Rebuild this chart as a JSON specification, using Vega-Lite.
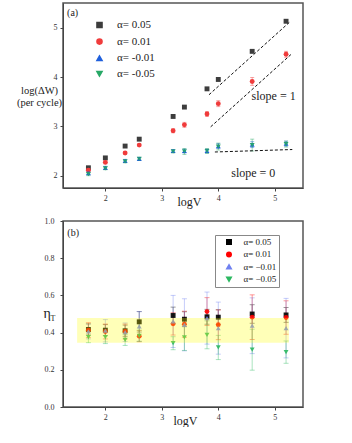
{
  "$schema": "https://vega.github.io/schema/vega-lite/v6.json",
  "background": "white",
  "padding": {"left": 15, "top": 2, "right": 0, "bottom": 0},
  "bounds": "flush",
  "spacing": 33,
  "config": {
    "font": "Liberation Serif",
    "view": {"stroke": "#555", "strokeWidth": 1.5},
    "axis": {"grid": false, "labelFontSize": 8, "tickSize": 3, "domainColor": "#444", "tickColor": "#444", "labelColor": "#333", "titleFontWeight": "normal", "titleColor": "#222", "labelFont": "Liberation Serif", "titleFont": "Liberation Serif", "labelOverlap": false, "labelFlush": false},
    "legend": {"labelFont": "Liberation Serif", "titleFontWeight": "normal", "symbolOpacity": 1}
  },
  "datasets": {
    "top": [
      {"s": "α= 0.05", "x": 1.7, "y": 2.16},
      {"s": "α= 0.05", "x": 2.0, "y": 2.36},
      {"s": "α= 0.05", "x": 2.35, "y": 2.60},
      {"s": "α= 0.05", "x": 2.6, "y": 2.74},
      {"s": "α= 0.05", "x": 3.2, "y": 3.20},
      {"s": "α= 0.05", "x": 3.4, "y": 3.39},
      {"s": "α= 0.05", "x": 3.8, "y": 3.76},
      {"s": "α= 0.05", "x": 4.0, "y": 3.95},
      {"s": "α= 0.05", "x": 4.6, "y": 4.52},
      {"s": "α= 0.05", "x": 5.2, "y": 5.13},
      {"s": "α= 0.01", "x": 1.7, "y": 2.11, "lo": 2.08, "hi": 2.14},
      {"s": "α= 0.01", "x": 2.0, "y": 2.27, "lo": 2.24, "hi": 2.30},
      {"s": "α= 0.01", "x": 2.35, "y": 2.46, "lo": 2.44, "hi": 2.48},
      {"s": "α= 0.01", "x": 2.6, "y": 2.62, "lo": 2.60, "hi": 2.64},
      {"s": "α= 0.01", "x": 3.2, "y": 2.91, "lo": 2.87, "hi": 2.95},
      {"s": "α= 0.01", "x": 3.4, "y": 3.03, "lo": 2.98, "hi": 3.08},
      {"s": "α= 0.01", "x": 3.8, "y": 3.25, "lo": 3.20, "hi": 3.30},
      {"s": "α= 0.01", "x": 4.0, "y": 3.46, "lo": 3.40, "hi": 3.52},
      {"s": "α= 0.01", "x": 4.6, "y": 3.91, "lo": 3.83, "hi": 3.99},
      {"s": "α= 0.01", "x": 5.2, "y": 4.46, "lo": 4.40, "hi": 4.52},
      {"s": "α= -0.01", "x": 1.7, "y": 2.05, "lo": 2.02, "hi": 2.08},
      {"s": "α= -0.01", "x": 2.0, "y": 2.16, "lo": 2.13, "hi": 2.19},
      {"s": "α= -0.01", "x": 2.35, "y": 2.30, "lo": 2.27, "hi": 2.33},
      {"s": "α= -0.01", "x": 2.6, "y": 2.34, "lo": 2.31, "hi": 2.37},
      {"s": "α= -0.01", "x": 3.2, "y": 2.50, "lo": 2.47, "hi": 2.53},
      {"s": "α= -0.01", "x": 3.4, "y": 2.50, "lo": 2.46, "hi": 2.54},
      {"s": "α= -0.01", "x": 3.8, "y": 2.50, "lo": 2.46, "hi": 2.54},
      {"s": "α= -0.01", "x": 4.0, "y": 2.60, "lo": 2.55, "hi": 2.65},
      {"s": "α= -0.01", "x": 4.6, "y": 2.63, "lo": 2.57, "hi": 2.69},
      {"s": "α= -0.01", "x": 5.2, "y": 2.65, "lo": 2.60, "hi": 2.70},
      {"s": "α= -0.05", "x": 1.7, "y": 2.03, "lo": 2.00, "hi": 2.06},
      {"s": "α= -0.05", "x": 2.0, "y": 2.15, "lo": 2.12, "hi": 2.18},
      {"s": "α= -0.05", "x": 2.35, "y": 2.29, "lo": 2.26, "hi": 2.32},
      {"s": "α= -0.05", "x": 2.6, "y": 2.34, "lo": 2.32, "hi": 2.36},
      {"s": "α= -0.05", "x": 3.2, "y": 2.49, "lo": 2.46, "hi": 2.52},
      {"s": "α= -0.05", "x": 3.4, "y": 2.49, "lo": 2.43, "hi": 2.55},
      {"s": "α= -0.05", "x": 3.8, "y": 2.50, "lo": 2.45, "hi": 2.55},
      {"s": "α= -0.05", "x": 4.0, "y": 2.59, "lo": 2.52, "hi": 2.66},
      {"s": "α= -0.05", "x": 4.6, "y": 2.62, "lo": 2.50, "hi": 2.74},
      {"s": "α= -0.05", "x": 5.2, "y": 2.64, "lo": 2.58, "hi": 2.70}
    ],
    "lines": [
      {"line": "A", "x": 3.835, "y": 3.64},
      {"line": "A", "x": 5.28, "y": 5.13},
      {"line": "B", "x": 3.865, "y": 2.99},
      {"line": "B", "x": 5.31, "y": 4.48},
      {"line": "C", "x": 3.94, "y": 2.48},
      {"line": "C", "x": 5.31, "y": 2.53}
    ],
    "topText": [
      {"t": "(a)", "x": 1.42, "y": 5.29, "fs": 10},
      {"t": "slope = 1", "x": 4.98, "y": 3.61, "fs": 12},
      {"t": "slope = 0", "x": 4.62, "y": 2.05, "fs": 12}
    ],
    "bottom": [
      {"a": "α= 0.05", "x": 1.7, "y": 0.417, "lo": 0.387, "hi": 0.447},
      {"a": "α= 0.05", "x": 2.0, "y": 0.413, "lo": 0.383, "hi": 0.443},
      {"a": "α= 0.05", "x": 2.35, "y": 0.41, "lo": 0.38, "hi": 0.44},
      {"a": "α= 0.05", "x": 2.6, "y": 0.458, "lo": 0.403, "hi": 0.513},
      {"a": "α= 0.05", "x": 3.2, "y": 0.492, "lo": 0.447, "hi": 0.537},
      {"a": "α= 0.05", "x": 3.4, "y": 0.472, "lo": 0.432, "hi": 0.512},
      {"a": "α= 0.05", "x": 3.8, "y": 0.485, "lo": 0.445, "hi": 0.525},
      {"a": "α= 0.05", "x": 4.0, "y": 0.483, "lo": 0.443, "hi": 0.523},
      {"a": "α= 0.05", "x": 4.6, "y": 0.50, "lo": 0.45, "hi": 0.55},
      {"a": "α= 0.05", "x": 5.2, "y": 0.495, "lo": 0.455, "hi": 0.535},
      {"a": "α= 0.01", "x": 1.7, "y": 0.413, "lo": 0.373, "hi": 0.453},
      {"a": "α= 0.01", "x": 2.0, "y": 0.406, "lo": 0.366, "hi": 0.446},
      {"a": "α= 0.01", "x": 2.35, "y": 0.406, "lo": 0.366, "hi": 0.446},
      {"a": "α= 0.01", "x": 2.6, "y": 0.381, "lo": 0.351, "hi": 0.411},
      {"a": "α= 0.01", "x": 3.2, "y": 0.447, "lo": 0.387, "hi": 0.507},
      {"a": "α= 0.01", "x": 3.4, "y": 0.445, "lo": 0.375, "hi": 0.515},
      {"a": "α= 0.01", "x": 3.8, "y": 0.513, "lo": 0.438, "hi": 0.588},
      {"a": "α= 0.01", "x": 4.0, "y": 0.442, "lo": 0.362, "hi": 0.522},
      {"a": "α= 0.01", "x": 4.6, "y": 0.483, "lo": 0.363, "hi": 0.603},
      {"a": "α= 0.01", "x": 5.2, "y": 0.481, "lo": 0.391, "hi": 0.571},
      {"a": "α= −0.01", "x": 1.7, "y": 0.406, "lo": 0.366, "hi": 0.446},
      {"a": "α= −0.01", "x": 2.0, "y": 0.41, "lo": 0.35, "hi": 0.47},
      {"a": "α= −0.01", "x": 2.35, "y": 0.402, "lo": 0.352, "hi": 0.452},
      {"a": "α= −0.01", "x": 2.6, "y": 0.433, "lo": 0.353, "hi": 0.513},
      {"a": "α= −0.01", "x": 3.2, "y": 0.46, "lo": 0.32, "hi": 0.60},
      {"a": "α= −0.01", "x": 3.4, "y": 0.442, "lo": 0.302, "hi": 0.582},
      {"a": "α= −0.01", "x": 3.8, "y": 0.478, "lo": 0.338, "hi": 0.618},
      {"a": "α= −0.01", "x": 4.0, "y": 0.424, "lo": 0.284, "hi": 0.564},
      {"a": "α= −0.01", "x": 4.6, "y": 0.437, "lo": 0.287, "hi": 0.587},
      {"a": "α= −0.01", "x": 5.2, "y": 0.424, "lo": 0.264, "hi": 0.584},
      {"a": "α= −0.05", "x": 1.7, "y": 0.376, "lo": 0.346, "hi": 0.406},
      {"a": "α= −0.05", "x": 2.0, "y": 0.376, "lo": 0.341, "hi": 0.411},
      {"a": "α= −0.05", "x": 2.35, "y": 0.361, "lo": 0.331, "hi": 0.391},
      {"a": "α= −0.05", "x": 2.6, "y": 0.383, "lo": 0.353, "hi": 0.413},
      {"a": "α= −0.05", "x": 3.2, "y": 0.343, "lo": 0.308, "hi": 0.378},
      {"a": "α= −0.05", "x": 3.4, "y": 0.374, "lo": 0.304, "hi": 0.444},
      {"a": "α= −0.05", "x": 3.8, "y": 0.388, "lo": 0.313, "hi": 0.463},
      {"a": "α= −0.05", "x": 4.0, "y": 0.32, "lo": 0.255, "hi": 0.385},
      {"a": "α= −0.05", "x": 4.6, "y": 0.308, "lo": 0.198, "hi": 0.418},
      {"a": "α= −0.05", "x": 5.2, "y": 0.295, "lo": 0.235, "hi": 0.355}
    ],
    "band": [{"x1": 1.5, "x2": 5.25, "y1": 0.345, "y2": 0.478}],
    "bottomText": [
      {"t": "(b)", "x": 1.43, "y": 0.937, "fs": 10},
      {"t": "η", "x": 0.97, "y": 0.50, "fs": 14},
      {"t": "T", "x": 1.07, "y": 0.475, "fs": 8}
    ]
  },
  "vconcat": [
    {
      "width": 240,
      "height": 185,
      "layer": [
        {
          "data": {"name": "top"},
          "mark": {"type": "point", "filled": true, "opacity": 1, "size": 24},
          "encoding": {
            "x": {"field": "x", "type": "quantitative", "title": "logV", "scale": {"domain": [1.25, 5.5], "nice": false, "zero": false}, "axis": {"values": [2, 3, 4, 5], "titleFontSize": 12, "titleX": 126, "titleY": 13, "titleBaseline": "middle", "labelPadding": 3}},
            "y": {"field": "y", "type": "quantitative", "title": ["log(ΔW)", "(per cycle)"], "scale": {"domain": [1.75, 5.5], "nice": false, "zero": false}, "axis": {"values": [2, 3, 4, 5], "titleAngle": 0, "titleFontSize": 10.5, "titleAlign": "center", "titleBaseline": "middle", "titleX": -24, "titleY": 87, "titleLineHeight": 12, "labelPadding": 3}},
            "color": {"field": "s", "type": "nominal", "title": null, "scale": {"domain": ["α= 0.05", "α= 0.01", "α= -0.01", "α= -0.05"], "range": ["#3d3d3d", "#f03c3c", "#1f5fdc", "#27a866"]},
              "legend": {"orient": "none", "legendX": 31, "legendY": 16.5, "labelFont": "Liberation Serif", "labelFontSize": 11, "symbolSize": 26, "rowPadding": 3.6, "labelOffset": 12, "padding": 0, "labelColor": "#222"}},
            "shape": {"field": "s", "type": "nominal", "title": null, "scale": {"domain": ["α= 0.05", "α= 0.01", "α= -0.01", "α= -0.05"], "range": ["square", "circle", "triangle-up", "triangle-down"]},
              "legend": {"orient": "none", "legendX": 31, "legendY": 16.5, "labelFont": "Liberation Serif", "labelFontSize": 11, "symbolSize": 26, "rowPadding": 3.6, "labelOffset": 12, "padding": 0, "labelColor": "#222"}}
          }
        },
        {
          "data": {"name": "top"},
          "transform": [{"filter": "isValid(datum.lo)"}],
          "mark": {"type": "errorbar", "ticks": {"size": 4}, "opacity": 0.45},
          "encoding": {
            "x": {"field": "x", "type": "quantitative", "title": "logV"},
            "y": {"field": "lo", "type": "quantitative", "title": ["log(ΔW)", "(per cycle)"]},
            "y2": {"field": "hi"},
            "color": {"field": "s", "type": "nominal", "title": null}
          }
        },
        {
          "data": {"name": "lines"},
          "mark": {"type": "line", "color": "#111", "strokeDash": [3, 2], "strokeWidth": 1},
          "encoding": {
            "x": {"field": "x", "type": "quantitative", "title": "logV"},
            "y": {"field": "y", "type": "quantitative", "title": ["log(ΔW)", "(per cycle)"]},
            "detail": {"field": "line"}
          }
        },
        {
          "data": {"name": "topText"},
          "mark": {"type": "text", "color": "#222", "align": "center", "baseline": "middle"},
          "encoding": {
            "x": {"field": "x", "type": "quantitative", "title": "logV"},
            "y": {"field": "y", "type": "quantitative", "title": ["log(ΔW)", "(per cycle)"]},
            "text": {"field": "t"},
            "size": {"field": "fs", "type": "quantitative", "scale": null}
          }
        }
      ]
    },
    {
      "width": 240,
      "height": 186,
      "layer": [
        {
          "data": {"name": "bottom"},
          "mark": {"type": "errorbar", "ticks": {"size": 5}, "opacity": 0.4},
          "encoding": {
            "x": {"field": "x", "type": "quantitative", "title": "logV", "scale": {"domain": [1.25, 5.5], "nice": false, "zero": false}, "axis": {"values": [2, 3, 4, 5], "titleFontSize": 12, "titleX": 122, "titleY": 13, "titleBaseline": "middle", "labelPadding": 3}},
            "y": {"field": "lo", "type": "quantitative", "title": null, "scale": {"domain": [0, 1], "nice": false}, "axis": {"tickCount": 5, "format": ".1f", "labelPadding": 6}},
            "y2": {"field": "hi"},
            "color": {"field": "a", "type": "nominal", "title": null, "scale": {"domain": ["α= 0.05", "α= 0.01", "α= −0.01", "α= −0.05"], "range": ["#000000", "#ff0000", "#6f80f0", "#2bb860"]},
              "legend": {"orient": "none", "legendX": 152, "legendY": 14, "labelFont": "Liberation Serif", "labelFontSize": 9, "symbolSize": 20, "rowPadding": 1.4, "labelOffset": 10, "symbolOffset": 7, "padding": 2.5, "strokeColor": "#888", "labelColor": "#222"}}
          }
        },
        {
          "data": {"name": "bottom"},
          "mark": {"type": "point", "filled": true, "opacity": 0.9, "size": 24},
          "encoding": {
            "x": {"field": "x", "type": "quantitative", "title": "logV"},
            "y": {"field": "y", "type": "quantitative", "title": null},
            "color": {"field": "a", "type": "nominal", "title": null},
            "shape": {"field": "a", "type": "nominal", "title": null, "scale": {"domain": ["α= 0.05", "α= 0.01", "α= −0.01", "α= −0.05"], "range": ["square", "circle", "triangle-up", "triangle-down"]},
              "legend": {"orient": "none", "legendX": 152, "legendY": 14, "labelFont": "Liberation Serif", "labelFontSize": 9, "symbolSize": 20, "rowPadding": 1.4, "labelOffset": 10, "symbolOffset": 7, "padding": 2.5, "strokeColor": "#888", "labelColor": "#222"}}
          }
        },
        {
          "data": {"name": "band"},
          "mark": {"type": "rect", "color": "#ffff00", "opacity": 0.28},
          "encoding": {
            "x": {"field": "x1", "type": "quantitative", "title": "logV"},
            "x2": {"field": "x2"},
            "y": {"field": "y1", "type": "quantitative", "title": null},
            "y2": {"field": "y2"}
          }
        },
        {
          "data": {"name": "bottomText"},
          "mark": {"type": "text", "color": "#222", "align": "center", "baseline": "middle"},
          "encoding": {
            "x": {"field": "x", "type": "quantitative", "title": "logV"},
            "y": {"field": "y", "type": "quantitative", "title": null},
            "text": {"field": "t"},
            "size": {"field": "fs", "type": "quantitative", "scale": null}
          }
        }
      ]
    }
  ],
  "resolve": {"scale": {"color": "independent", "shape": "independent"}, "legend": {"color": "independent", "shape": "independent"}}
}
